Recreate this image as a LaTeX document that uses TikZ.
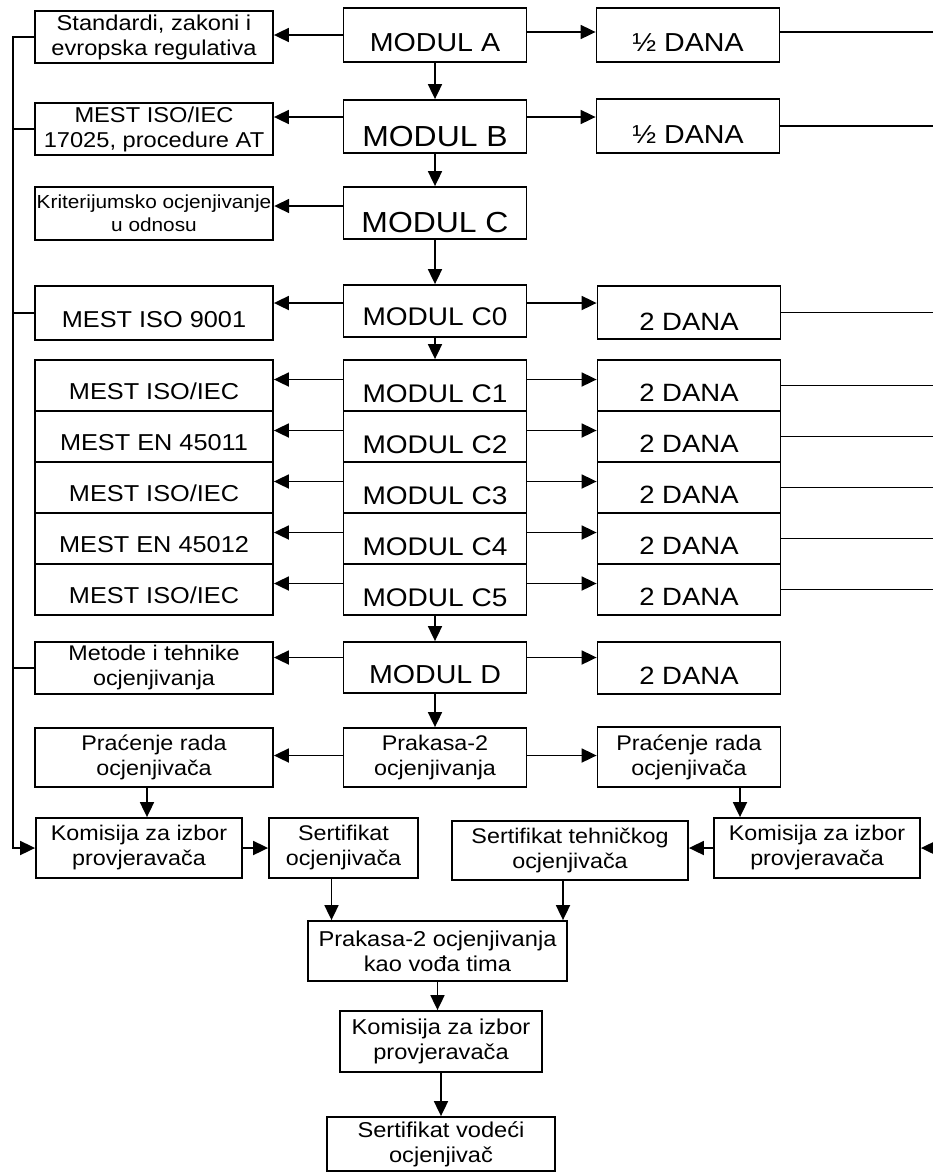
\documentclass[tikz,border=0pt]{standalone}
\usepackage{fontspec}
\setmainfont{Liberation Sans}[FakeStretch=1.1]
\usetikzlibrary{arrows.meta}

\newcommand{\fsz}[2]{\fontsize{#1}{#2}\selectfont}

\begin{document}
\begin{tikzpicture}[x=1pt,y=-1pt,
      every node/.style={draw,line width=1.8pt,inner sep=2pt},
      sz/.style 2 args={minimum width=#1,minimum height=#2},
      low/.style={text height=#1,text depth=0pt},
      two/.style={align=center,font=\fsz{21.2}{25}},
      arr/.style={line width=1.8pt,-{Triangle[length=15pt,width=14pt]}},
      link/.style={line width=1.8pt}]
    \useasboundingbox (0,0) rectangle (933,1173);
    \coordinate (bus) at (13,0);
    \coordinate (rim) at (933,0);

    \node[sz={238pt}{52pt},align=center,font=\fsz{21.5}{25}] (std) at (154,37) {Standardi, zakoni i\\evropska regulativa};
    \node[sz={238pt}{52pt},align=center,font=\fsz{21.5}{25}] (iso17) at (154,129) {MEST ISO/IEC\\17025, procedure AT};
    \node[sz={238pt}{53pt},align=center,font=\fsz{18.9}{23}] (krit) at (154,213.5) {Kriterijumsko ocjenjivanje\\u odnosu};
    \node[sz={238pt}{54pt},low=28pt,font=\fsz{23}{27}] (iso9) at (154,313) {MEST ISO 9001};
    \foreach \t [count=\i] in {MEST ISO/IEC,MEST EN 45011,MEST ISO/IEC,MEST EN 45012,MEST ISO/IEC}
        \node[sz={238pt}{51pt},low=28pt,font=\fsz{23}{27}] (l\i) at (154,{334.5+51*\i}) {\t};
    \node[sz={238pt}{52pt},two] (met) at (154,668) {Metode i tehnike\\ocjenjivanja};
    \node[sz={238pt}{59pt},two] (pracL) at (154,757.5) {Praćenje rada\\ocjenjivača};
    \node[sz={206pt}{60pt},two] (komL) at (139,848) {Komisija za izbor\\provjeravača};
    \node[sz={149pt}{60pt},two] (sertO) at (343.5,848) {Sertifikat\\ocjenjivača};

    \node[sz={183pt}{54pt},low=32pt,font=\fsz{26}{30}] (modA) at (435,35) {MODUL A};
    \node[sz={183pt}{53pt},low=39pt,font=\fsz{29}{33}] (modB) at (435,126.5) {MODUL B};
    \node[sz={183pt}{52pt},low=38pt,font=\fsz{29}{33}] (modC) at (435,213) {MODUL C};
    \node[sz={183pt}{52pt},low=28pt,font=\fsz{25.5}{30}] (modC0) at (435,311) {MODUL C0};
    \foreach \i in {1,...,5}
        \node[sz={183pt}{51pt},low=34pt,font=\fsz{25.5}{30}] (c\i) at (435,{334.5+51*\i}) {MODUL C\i};
    \node[sz={183pt}{51pt},low=31pt,font=\fsz{26}{30}] (modD) at (435,667.5) {MODUL D};
    \node[sz={183pt}{59pt},two] (prak) at (435,757.5) {Prakasa-2\\ocjenjivanja};
    \node[sz={259pt}{60pt},align=center,font=\fsz{21.5}{25}] (prakV) at (437.5,951) {Prakasa-2 ocjenjivanja\\kao vođa tima};
    \node[sz={202pt}{61pt},align=center,font=\fsz{21.5}{25}] (komB) at (441,1041.5) {Komisija za izbor\\provjeravača};
    \node[sz={228pt}{54pt},align=center,font=\fsz{21.5}{25}] (sertV) at (441,1144) {Sertifikat vodeći\\ocjenjivač};

    \node[sz={183pt}{54pt},low=32pt,font=\fsz{26}{30}] (dA) at (688,35) {½ DANA};
    \node[sz={183pt}{54pt},low=34pt,font=\fsz{26}{30}] (dB) at (688,126) {½ DANA};
    \node[sz={183pt}{53pt},low=35pt,font=\fsz{25}{30}] (dC0) at (689,312.5) {2 DANA};
    \foreach \i in {1,...,5}
        \node[sz={183pt}{51pt},low=31pt,font=\fsz{25}{30}] (r\i) at (689,{334.5+51*\i}) {2 DANA};
    \node[sz={183pt}{52pt},low=32pt,font=\fsz{25}{30}] (dD) at (689,668) {2 DANA};
    \node[sz={183pt}{60pt},two] (pracR) at (689,757) {Praćenje rada\\ocjenjivača};
    \node[sz={236pt}{59pt},two] (sertT) at (570,850.5) {Sertifikat tehničkog\\ocjenjivača};
    \node[sz={206pt}{60pt},two] (komR) at (817,848) {Komisija za izbor\\provjeravača};

    \draw[arr] (modA) -- (modB);
    \draw[arr] (modB) -- (modC);
    \draw[arr] (modC) -- (modC0);
    \draw[arr] (modC0) -- (c1);
    \draw[arr] (c5) -- (modD);
    \draw[arr] (modD) -- (prak);
    \draw[arr] (prakV.south) -- (prakV.south |- komB.north);
    \draw[arr] (komB) -- (sertV);

    \draw[arr] (modA.west) -- (modA.west -| std.east);
    \draw[arr] ([yshift=3pt]modA.east) -- ([yshift=3pt]modA.east -| dA.west);
    \draw[link] ([yshift=3pt]dA.east) -- ([yshift=3pt]dA.east -| rim);
    \draw[arr] ([yshift=9.5pt]modB.west) -- ([yshift=9.5pt]modB.west -| iso17.east);
    \draw[arr] ([yshift=9.5pt]modB.east) -- ([yshift=9.5pt]modB.east -| dB.west);
    \draw[link] (dB.east) -- (dB.east -| rim);
    \draw[arr] ([yshift=7pt]modC.west) -- ([yshift=7pt]modC.west -| krit.east);
    \draw[arr] ([yshift=8pt]modC0.west) -- ([yshift=8pt]modC0.west -| iso9.east);
    \draw[arr] ([yshift=8pt]modC0.east) -- ([yshift=8pt]modC0.east -| dC0.west);
    \draw[link] (dC0.east) -- (dC0.east -| rim);
    \foreach \i in {1,...,5} {
        \draw[arr] ([yshift=6pt]c\i.west) -- ([yshift=6pt]c\i.west -| l\i.east);
        \draw[arr] ([yshift=6pt]c\i.east) -- ([yshift=6pt]c\i.east -| r\i.west);
        \draw[link] (r\i.east) -- (r\i.east -| rim);
    }
    \draw[arr] ([yshift=10pt]modD.west) -- ([yshift=10pt]modD.west -| met.east);
    \draw[arr] ([yshift=10pt]modD.east) -- ([yshift=10pt]modD.east -| dD.west);
    \draw[arr] ([yshift=2pt]prak.west) -- ([yshift=2pt]prak.west -| pracL.east);
    \draw[arr] ([yshift=2pt]prak.east) -- ([yshift=2pt]prak.east -| pracR.west);
    \draw[arr] ([xshift=-7pt]pracL.south) -- ([xshift=-7pt]pracL.south |- komL.north);
    \draw[arr] ([xshift=51pt]pracR.south) -- ([xshift=51pt]pracR.south |- komR.north);

    \draw[arr] (std.west) -- (std.west -| bus) |- (komL.west);
    \foreach \n in {iso17,iso9,met}
        \draw[link] (\n.west) -- (\n.west -| bus);
    \draw[arr] (komL) -- (sertO);
    \draw[arr] (komR.west) -- (komR.west -| sertT.east);
    \draw[arr] (komR.east -| rim) -- (komR.east);
    \draw[arr] ([xshift=-12pt]sertO.south) -- ([xshift=-12pt]sertO.south |- prakV.north);
    \draw[arr] ([xshift=-7pt]sertT.south) -- ([xshift=-7pt]sertT.south |- prakV.north);
\end{tikzpicture}
\end{document}
